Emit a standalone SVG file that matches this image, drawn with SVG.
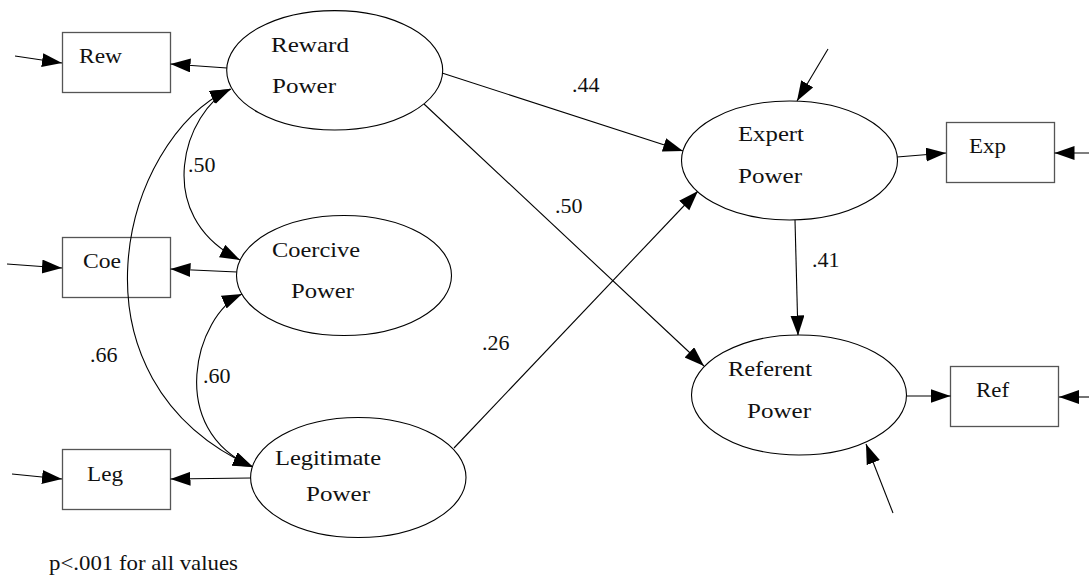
<svg xmlns="http://www.w3.org/2000/svg" width="1089" height="575" viewBox="0 0 1089 575">
<style>
text{font-family:"Liberation Serif","Times New Roman",serif;font-size:22px;fill:#111}
.n ellipse{fill:#fff;stroke:#000;stroke-width:1.1}
.n rect{fill:none;stroke:#555;stroke-width:1.3}
.c path,.c line{fill:none;stroke:#000;stroke-width:1.1}
.a{marker-end:url(#ah)}
.b{marker-start:url(#ah);marker-end:url(#ah)}
</style>
<defs>
<marker id="ah" markerUnits="userSpaceOnUse" markerWidth="22" markerHeight="15" refX="20" refY="7" orient="auto-start-reverse">
<path d="M0,0 L20,7 L0,14 z" fill="#000"/>
</marker>
</defs>
<g class="n" id="rew"><rect x="62.5" y="32.5" width="108" height="60"/><text x="79" y="63" textLength="43" lengthAdjust="spacingAndGlyphs">Rew</text></g>
<g class="n" id="coe"><rect x="62.5" y="237.5" width="108" height="60"/><text x="83" y="268" textLength="38" lengthAdjust="spacingAndGlyphs">Coe</text></g>
<g class="n" id="leg"><rect x="62.5" y="449.5" width="108" height="60"/><text x="87" y="481" textLength="36" lengthAdjust="spacingAndGlyphs">Leg</text></g>
<g class="n" id="exp"><rect x="946.5" y="122.5" width="108" height="60"/><text x="969" y="153" textLength="37" lengthAdjust="spacingAndGlyphs">Exp</text></g>
<g class="n" id="ref"><rect x="950.5" y="366.5" width="108" height="60"/><text x="976" y="397" textLength="33" lengthAdjust="spacingAndGlyphs">Ref</text></g>
<g class="c" id="connectors">
<line class="a" x1="15" y1="56" x2="62" y2="63"/>
<line class="a" x1="227" y1="68" x2="170.5" y2="64"/>
<line class="a" x1="7" y1="264" x2="62" y2="268"/>
<line class="a" x1="237" y1="272" x2="170.5" y2="269"/>
<line class="a" x1="12" y1="474" x2="62" y2="479"/>
<line class="a" x1="251" y1="478" x2="170.5" y2="479"/>
<line class="a" x1="897" y1="157" x2="946" y2="153"/>
<line class="a" x1="1089" y1="153" x2="1054.5" y2="153"/>
<line class="a" x1="907" y1="396" x2="950.5" y2="396"/>
<line class="a" x1="1089" y1="397" x2="1059" y2="397"/>
<line class="a" x1="828" y1="49" x2="797" y2="101"/>
<line class="a" x1="893" y1="513" x2="866" y2="444"/>
<line class="a" x1="442" y1="73" x2="683" y2="151"/>
<line class="a" x1="424" y1="104" x2="704" y2="366"/>
<line class="a" x1="454" y1="448" x2="698" y2="191"/>
<line class="a" x1="795" y1="220" x2="798" y2="335.5"/>
<path class="b" d="M231,89 C185,110 150,215 240,260"/>
<path class="b" d="M230,89 C120,140 60,380 253,467"/>
<path class="b" d="M242,294 C195,315 165,430 253,467"/>
</g>
<g class="n" id="reward"><ellipse cx="334.7" cy="70.3" rx="108" ry="59.7"/><text x="271" y="52" textLength="78" lengthAdjust="spacingAndGlyphs">Reward</text><text x="272" y="93" textLength="64" lengthAdjust="spacingAndGlyphs">Power</text></g>
<g class="n" id="coercive"><ellipse cx="344" cy="275.5" rx="107.5" ry="60"/><text x="272" y="257" textLength="88" lengthAdjust="spacingAndGlyphs">Coercive</text><text x="291" y="298" textLength="63" lengthAdjust="spacingAndGlyphs">Power</text></g>
<g class="n" id="legitimate"><ellipse cx="358.3" cy="477.5" rx="107.7" ry="60"/><text x="275" y="465" textLength="106" lengthAdjust="spacingAndGlyphs">Legitimate</text><text x="306" y="501" textLength="64" lengthAdjust="spacingAndGlyphs">Power</text></g>
<g class="n" id="expert"><ellipse cx="789.5" cy="160.5" rx="108" ry="59.5"/><text x="738" y="141" textLength="66" lengthAdjust="spacingAndGlyphs">Expert</text><text x="738" y="183" textLength="64" lengthAdjust="spacingAndGlyphs">Power</text></g>
<g class="n" id="referent"><ellipse cx="799" cy="395" rx="107.5" ry="60"/><text x="728" y="376" textLength="84" lengthAdjust="spacingAndGlyphs">Referent</text><text x="747" y="418" textLength="64" lengthAdjust="spacingAndGlyphs">Power</text></g>
<g id="labels">
<text x="572" y="92">.44</text>
<text x="555" y="213">.50</text>
<text x="482" y="350">.26</text>
<text x="812" y="267">.41</text>
<text x="188" y="172">.50</text>
<text x="90" y="362">.66</text>
<text x="203" y="383">.60</text>
<text x="49" y="570" textLength="189" lengthAdjust="spacingAndGlyphs">p&lt;.001 for all values</text>
</g>
</svg>
